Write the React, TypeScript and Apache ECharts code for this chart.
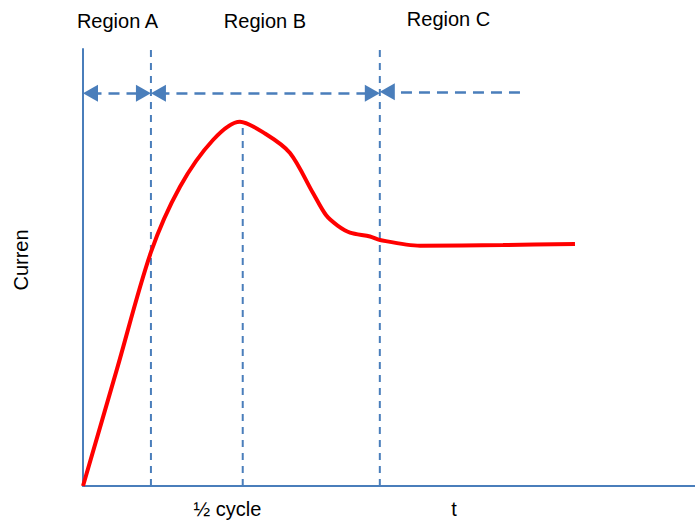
import React, { useEffect, useRef } from "react";
import * as echarts from "echarts";

// Current curve (x: time in % of axis width, y: current in % of axis height)
const curveX = [0, 5.56, 11.1, 15.85, 21.24, 25.65, 29.8, 33.82, 37.58, 39.7, 41.6, 43.63, 46.9, 48.53, 55.07, 68.63, 80.39];
const curveY = [0, 26.8, 53.5, 68.49, 79.18, 83.36, 80.6, 76.2, 67.05, 62.0, 59.6, 58.0, 57.1, 56.29, 54.99, 55.15, 55.38];

// Vertical dashed dividers
const dividerX = [11.1, 26.1, 48.5];
const dividerTop = [100, 82.8, 100];

// Region arrows
const arrowStart = [0, 11.1, 71.4];
const arrowEnd = [11.1, 48.5, 48.5];
const arrowY = [89.9, 89.9, 90.2];
const arrowStartHead = [true, true, false];
const arrowEndHead = [true, true, true];

// Texts
const regionLabels = ["Region A", "Region B", "Region C"];
const xLabels = ["½ cycle", "t"];
const yLabel = "Curren";

const BLUE = "#4A7EBB";
const FONT = "20px 'Liberation Sans', Arial, sans-serif";

export default function App() {
  const ref = useRef<HTMLDivElement>(null);

  useEffect(() => {
    if (!ref.current) return;
    const chart = echarts.init(ref.current, undefined, { renderer: "svg" });

    const gridLeft = 83;
    const gridRight = 0;
    const gridTop = 49;
    const gridBottom = 35;
    const pxPerX = (695 - gridLeft - gridRight) / 100;
    const headLen = 15;
    const inset = headLen / 2 / pxPerX;

    const arrowData = arrowStart.map((s, i) => {
      const e = arrowEnd[i];
      const dir = e > s ? 1 : -1;
      const s2 = arrowStartHead[i] ? s + dir * inset : s;
      const e2 = arrowEndHead[i] ? e - dir * inset : e;
      return [
        { coord: [s2, arrowY[i]], symbol: arrowStartHead[i] ? "triangle" : "none" },
        { coord: [e2, arrowY[i]], symbol: arrowEndHead[i] ? "triangle" : "none" },
      ];
    });

    const dividerSeries = dividerX.map((x, i) => ({
      type: "line",
      data: [
        [x, 0],
        [x, dividerTop[i]],
      ],
      symbol: "none",
      silent: true,
      lineStyle: { color: BLUE, width: 2, type: [7, 6] },
      z: 1,
    }));

    const text = (t: string, x: number, y: number, rotation = 0) => ({
      type: "text",
      x,
      y,
      rotation,
      style: { text: t, font: FONT, fill: "#000", textAlign: "center", textVerticalAlign: "middle" },
    });

    chart.setOption({
      animation: false,
      grid: { left: gridLeft, right: gridRight, top: gridTop, bottom: gridBottom, containLabel: false },
      xAxis: {
        type: "value",
        min: 0,
        max: 100,
        axisLine: { show: true, lineStyle: { color: BLUE, width: 2 } },
        axisTick: { show: false },
        axisLabel: { show: false },
        splitLine: { show: false },
      },
      yAxis: {
        type: "value",
        min: 0,
        max: 100,
        axisLine: { show: true, lineStyle: { color: BLUE, width: 2 } },
        axisTick: { show: false },
        axisLabel: { show: false },
        splitLine: { show: false },
      },
      series: [
        ...dividerSeries,
        {
          type: "line",
          data: [],
          symbol: "none",
          markLine: {
            silent: true,
            symbolSize: [17, headLen],
            label: { show: false },
            lineStyle: { color: BLUE, width: 2.5, type: [11, 7] },
            itemStyle: { color: BLUE },
            emphasis: { disabled: true },
            data: arrowData,
          },
        },
        {
          type: "line",
          data: curveX.map((x, i) => [x, curveY[i]]),
          symbol: "none",
          smooth: 0.3,
          lineStyle: { color: "#FF0000", width: 4 },
          z: 5,
        },
      ],
      graphic: [
        text(regionLabels[0], 117.5, 21),
        text(regionLabels[1], 265, 21),
        text(regionLabels[2], 448.5, 19),
        text(xLabels[0], 227.5, 509),
        text(xLabels[1], 454, 509),
        text(yLabel, 21, 260, Math.PI / 2),
      ],
    });

    return () => chart.dispose();
  }, []);

  return <div ref={ref} style={{ position: "fixed", left: 0, top: 0, width: 695, height: 521, background: "#fff" }} />;
}
